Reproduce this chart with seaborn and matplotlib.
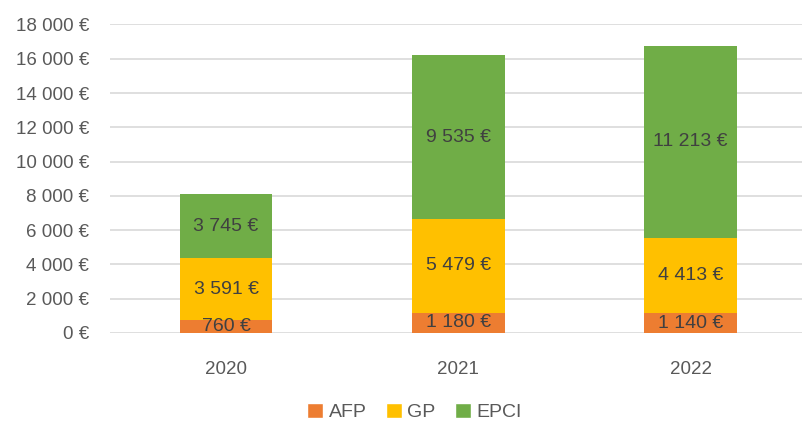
import pandas as pd
import seaborn as sns
import matplotlib.pyplot as plt
from matplotlib.patches import Patch

# --- données ---
years = ['2020', '2021', '2022']
afp = [760, 1180, 1140]
gp = [3591, 5479, 4413]
epci = [3745, 9535, 11213]
series_names = ['AFP', 'GP', 'EPCI']
colors = ['#ED7D31', '#FFC000', '#70AD47']


def euro(v):
    return f"{int(v):,} €".replace(',', ' ')


sns.set_theme(style='white')
plt.rcParams['font.family'] = ['Liberation Sans', 'DejaVu Sans']

df = pd.DataFrame({'annee': years, 'AFP': afp, 'GP': gp, 'EPCI': epci})

fig = plt.figure(figsize=(8.02, 4.22), dpi=100)
ax = fig.add_axes([0.137, 0.211, 0.869, 0.731])

bottom = [0] * len(years)
for name, col in zip(series_names, colors):
    sns.barplot(data=df, x='annee', y=name, color=col, width=0.4,
                bottom=bottom, ax=ax, order=years, saturation=1,
                linewidth=0, edgecolor='none', zorder=3)
    bottom = [b + v for b, v in zip(bottom, df[name])]

for cont in ax.containers:
    vals = [r.get_height() for r in cont]
    ax.bar_label(cont, labels=[euro(v) for v in vals], label_type='center',
                 color='#404040', fontsize=14)

ax.set_ylim(0, 18000)
ax.set_yticks(range(0, 18001, 2000))
ax.set_yticklabels([euro(v) for v in range(0, 18001, 2000)])
ax.set_xlabel('')
ax.set_ylabel('')
ax.yaxis.grid(True, color='#d9d9d9', linewidth=1.2, zorder=0)
ax.set_axisbelow(True)
for s in ax.spines.values():
    s.set_visible(False)
ax.tick_params(axis='both', length=0, labelsize=13.5, colors='#595959')
ax.tick_params(axis='x', pad=20)
ax.tick_params(axis='y', pad=15)

handles = [Patch(facecolor=c, label=n) for n, c in zip(series_names, colors)]
fig.legend(handles=handles, loc='center', bbox_to_anchor=(0.517, 0.024), ncol=3,
           frameon=False, fontsize=14, handlelength=0.8, handleheight=0.8,
           handletextpad=0.3, columnspacing=1.0, labelcolor='#595959')

plt.savefig('out.png', dpi=100)
